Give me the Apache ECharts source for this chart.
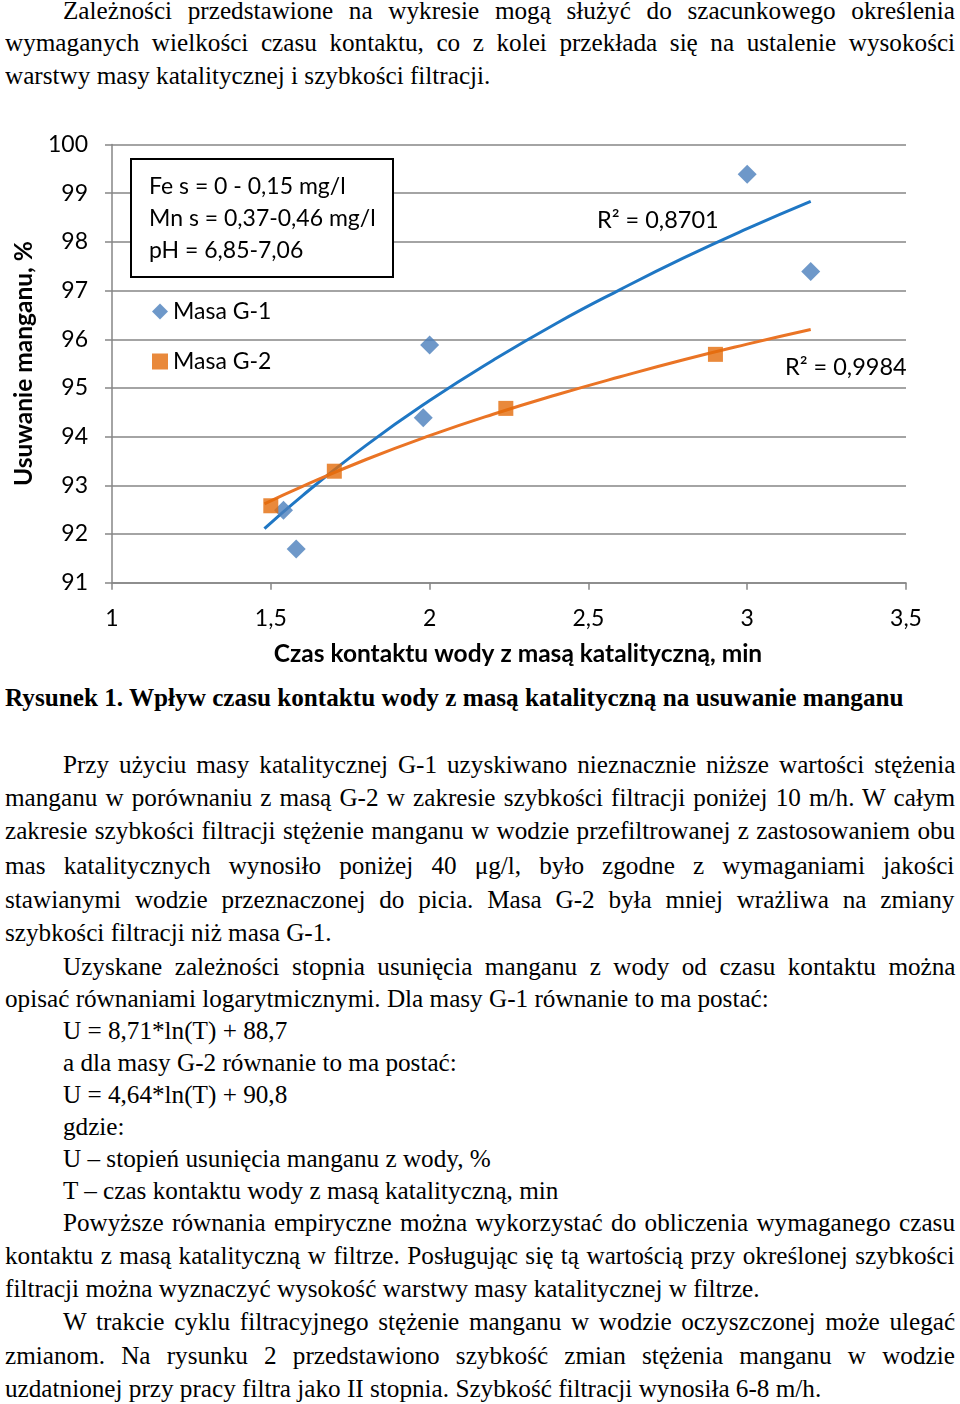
<!DOCTYPE html>
<html>
<head>
<meta charset="utf-8">
<script src="https://cdn.jsdelivr.net/npm/echarts@6/dist/echarts.min.js"></script>
<style>
  html, body { margin:0; padding:0; background:#fff; }
  body { width:960px; height:1404px; position:relative; overflow:hidden; }
  #text { position:absolute; left:5px; top:0; width:924px; height:1404px;
          transform:scaleX(1.028); transform-origin:0 0;
          font-family:"Liberation Serif","Times New Roman",serif; font-size:24.5px;
          line-height:33px; color:#000; }
  #text .l { position:absolute; left:0; width:924px; white-space:nowrap; }
  #text .i { left:56.4px; width:867.6px; }
  #text .b { font-weight:bold; }
  #text .l span { display:inline-block; white-space:nowrap; }
  #chart { position:absolute; left:0; top:120px; width:960px; height:560px; }
</style>
</head>
<body>
<div id="text">
  <div class="l i j" style="top:-6.5px"><span>Zależności przedstawione na wykresie mogą służyć do szacunkowego określenia</span></div>
  <div class="l j" style="top:26px"><span>wymaganych wielkości czasu kontaktu, co z kolei przekłada się na ustalenie wysokości</span></div>
  <div class="l" style="top:59px"><span>warstwy masy katalitycznej i szybkości filtracji.</span></div>

  <div class="l b" style="top:681.3px"><span>Rysunek 1. Wpływ czasu kontaktu wody z masą katalityczną na usuwanie manganu</span></div>

  <div class="l i j" style="top:748.3px"><span>Przy użyciu masy katalitycznej G-1 uzyskiwano nieznacznie niższe wartości stężenia</span></div>
  <div class="l j" style="top:781.3px"><span>manganu w porównaniu z masą G-2 w zakresie szybkości filtracji poniżej 10 m/h. W całym</span></div>
  <div class="l j" style="top:814.3px"><span>zakresie szybkości filtracji stężenie manganu w wodzie przefiltrowanej z zastosowaniem obu</span></div>
  <div class="l j" style="top:849.3px"><span>mas katalitycznych wynosiło poniżej 40 μg/l, było zgodne z wymaganiami jakości</span></div>
  <div class="l j" style="top:883.3px"><span>stawianymi wodzie przeznaczonej do picia. Masa G-2 była mniej wrażliwa na zmiany</span></div>
  <div class="l" style="top:916.3px"><span>szybkości filtracji niż masa G-1.</span></div>
  <div class="l i j" style="top:950.3px"><span>Uzyskane zależności stopnia usunięcia manganu z wody od czasu kontaktu można</span></div>
  <div class="l" style="top:982.3px"><span>opisać równaniami logarytmicznymi. Dla masy G-1 równanie to ma postać:</span></div>
  <div class="l i" style="top:1014.3px"><span>U = 8,71*ln(T) + 88,7</span></div>
  <div class="l i" style="top:1046.3px"><span>a dla masy G-2 równanie to ma postać:</span></div>
  <div class="l i" style="top:1078.3px"><span>U = 4,64*ln(T) + 90,8</span></div>
  <div class="l i" style="top:1110.3px"><span>gdzie:</span></div>
  <div class="l i" style="top:1142.3px"><span>U – stopień usunięcia manganu z wody, %</span></div>
  <div class="l i" style="top:1174.3px"><span>T – czas kontaktu wody z masą katalityczną, min</span></div>
  <div class="l i j" style="top:1206.3px"><span>Powyższe równania empiryczne można wykorzystać do obliczenia wymaganego czasu</span></div>
  <div class="l j" style="top:1239.3px"><span>kontaktu z masą katalityczną w filtrze. Posługując się tą wartością przy określonej szybkości</span></div>
  <div class="l" style="top:1272.3px"><span>filtracji można wyznaczyć wysokość warstwy masy katalitycznej w filtrze.</span></div>
  <div class="l i j" style="top:1305.3px"><span>W trakcie cyklu filtracyjnego stężenie manganu w wodzie oczyszczonej może ulegać</span></div>
  <div class="l j" style="top:1339.3px"><span>zmianom. Na rysunku 2 przedstawiono szybkość zmian stężenia manganu w wodzie</span></div>
  <div class="l" style="top:1372.3px"><span>uzdatnionej przy pracy filtra jako II stopnia. Szybkość filtracji wynosiła 6-8 m/h.</span></div>
</div>
<div id="chart"></div>
<script>
// ---- data ----
const xTickLabels = ['1', '1,5', '2', '2,5', '3', '3,5'];
const yTickLabels = ['91', '92', '93', '94', '95', '96', '97', '98', '99', '100'];

const g1Name = 'Masa G-1';
const g1X = [1.54, 1.58, 1.98, 2.00, 3.00, 3.20];
const g1Y = [92.49, 91.69, 94.39, 95.88, 99.39, 97.39];

const g2Name = 'Masa G-2';
const g2X = [1.50, 1.70, 2.24, 2.90];
const g2Y = [92.58, 93.29, 94.58, 95.69];

// logarithmic trendlines as drawn in the figure
const trendX  = [1.48, 1.60, 1.80, 2.00, 2.20, 2.40, 2.60, 2.80, 3.00, 3.20];
const trendG1 = [92.11, 92.79, 93.82, 94.74, 95.57, 96.33, 97.02, 97.67, 98.27, 98.83];
const trendG2 = [92.62, 92.98, 93.53, 94.02, 94.46, 94.86, 95.23, 95.58, 95.90, 96.20];

const r2G1 = 'R² = 0,8701';
const r2G2 = 'R² = 0,9984';
const conditions = ['Fe s = 0 - 0,15 mg/l', 'Mn s = 0,37-0,46 mg/l', 'pH = 6,85-7,06'];
const xTitle = 'Czas kontaktu wody z masą katalityczną, min';
const yTitle = 'Usuwanie manganu, %';

// ---- justify text lines ----
document.querySelectorAll('#text .j').forEach(function (el) {
  const span = el.querySelector('span');
  const target = el.clientWidth;
  const natural = span.offsetWidth;
  const spaces = (span.textContent.match(/ /g) || []).length;
  if (spaces > 0) span.style.wordSpacing = ((target - natural) / spaces) + 'px';
});

// ---- chart ----
const FONT = 'Lato, "Open Sans", sans-serif';
const GRID = '#868686';
const pairs = (xs, ys) => xs.map((x, i) => [x, ys[i]]);

const chart = echarts.init(document.getElementById('chart'), null, { renderer: 'canvas' });
chart.setOption({
  animation: false,
  backgroundColor: '#fff',
  grid: { left: 112, right: 54, top: 24.5, height: 438.2, containLabel: false },
  xAxis: {
    type: 'value', min: 1, max: 3.5, interval: 0.5,
    axisLine: { show: true, onZero: false, lineStyle: { color: GRID, width: 1.5 } },
    axisTick: { show: true, length: 7, lineStyle: { color: GRID, width: 1.5 } },
    splitLine: { show: false },
    axisLabel: {
      color: '#000', fontFamily: FONT, fontSize: 23, margin: 24,
      formatter: function (v) { return xTickLabels[Math.round((v - 1) / 0.5)]; }
    },
    name: xTitle, nameLocation: 'middle', nameGap: 59,
    nameTextStyle: { color: '#000', fontFamily: FONT, fontSize: 24.5, fontWeight: 'bold', padding: [0, 0, 0, 18] }
  },
  yAxis: {
    type: 'value', min: 91, max: 100, interval: 1,
    axisLine: { show: true, lineStyle: { color: GRID, width: 1.5 } },
    axisTick: { show: true, length: 7, lineStyle: { color: GRID, width: 1.5 } },
    splitLine: { show: true, lineStyle: { color: GRID, width: 1.5 } },
    axisLabel: {
      color: '#000', fontFamily: FONT, fontSize: 23, margin: 24,
      formatter: function (v) { return yTickLabels[Math.round(v - 91)]; }
    },
    name: yTitle, nameLocation: 'middle', nameGap: 67, nameRotate: 90,
    nameTextStyle: { color: '#000', fontFamily: FONT, fontSize: 24.5, fontWeight: 'bold' }
  },
  legend: {
    data: [g1Name, g2Name], orient: 'vertical', left: 147, top: 175,
    itemWidth: 16, itemHeight: 16, itemGap: 27,
    textStyle: { color: '#000', fontFamily: FONT, fontSize: 23 },
    selectedMode: false
  },
  series: [
    { name: 'trend G-1', type: 'line', smooth: true, showSymbol: false, silent: true,
      data: pairs(trendX, trendG1), lineStyle: { color: '#1f77c4', width: 3 }, z: 2 },
    { name: 'trend G-2', type: 'line', smooth: true, showSymbol: false, silent: true,
      data: pairs(trendX, trendG2), lineStyle: { color: '#ea7425', width: 3 }, z: 2 },
    { name: g1Name, type: 'scatter', symbol: 'diamond', symbolSize: 19,
      itemStyle: { color: '#4a7ebb' }, data: pairs(g1X, g1Y), z: 3 },
    { name: g2Name, type: 'scatter', symbol: 'rect', symbolSize: 15,
      itemStyle: { color: '#e46c0a' }, data: pairs(g2X, g2Y), z: 3 }
  ],
  graphic: [
    { type: 'rect', left: 130, top: 38, z: 10,
      shape: { width: 262, height: 118 },
      style: { fill: '#fff', stroke: '#000', lineWidth: 2 } },
    { type: 'text', left: 149, top: 51, z: 11,
      style: { text: conditions.join('\n'), fontFamily: FONT, fontSize: 23, lineHeight: 32, fill: '#000' } },
    { type: 'text', left: 597, top: 88, z: 11,
      style: { text: r2G1, fontFamily: FONT, fontSize: 23.5, fill: '#000' } },
    { type: 'text', left: 785, top: 235, z: 11,
      style: { text: r2G2, fontFamily: FONT, fontSize: 23.5, fill: '#000' } }
  ]
});
</script>
</body>
</html>
